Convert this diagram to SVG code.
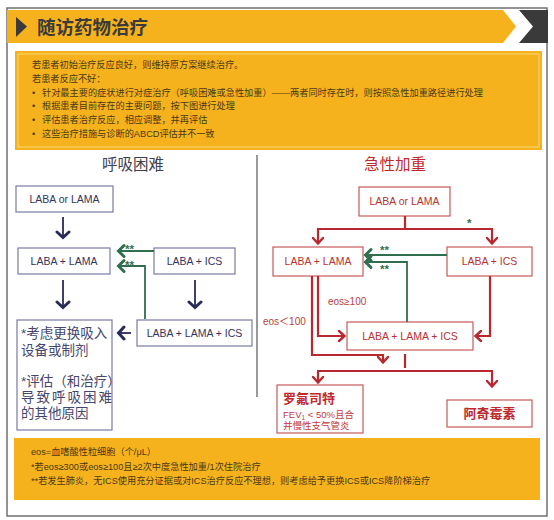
<svg xmlns="http://www.w3.org/2000/svg" width="554" height="520" viewBox="0 0 554 520">
<defs>
<style>
.zh{font-family:"Liberation Sans","Noto Sans CJK SC",sans-serif}
.info{font-size:9.2px;fill:#4a3a18}
.lbox{fill:#fff;stroke:#7a7aa2;stroke-width:1.2}
.rbox{fill:#fff;stroke:#c65a5a;stroke-width:1.2}
.lt{font-size:10.5px;fill:#34345c;text-anchor:middle}
.rt{font-size:10.5px;fill:#b83232;text-anchor:middle}
.navy{stroke:#2a2a58;stroke-width:1.8;fill:none}
.green{stroke:#2f6e4e;stroke-width:1.8;fill:none}
.red{stroke:#b8282e;stroke-width:2.2;fill:none}
.star{font-size:11.5px;fill:#2f6e4e;font-weight:bold}
</style>
<marker id="mn" viewBox="-10 -8 12 16" refX="0" refY="0" markerWidth="12" markerHeight="16" orient="auto" markerUnits="userSpaceOnUse">
<path d="M-6,-6 L-0.5,0 L-6,6" fill="none" stroke="#2a2a58" stroke-width="3" stroke-linecap="round"/>
</marker>
<marker id="mg" viewBox="-10 -8 12 16" refX="0" refY="0" markerWidth="12" markerHeight="16" orient="auto" markerUnits="userSpaceOnUse">
<path d="M-6,-5.5 L-0.5,0 L-6,5.5" fill="none" stroke="#2f6e4e" stroke-width="3" stroke-linecap="round"/>
</marker>
<marker id="mr" viewBox="-10 -8 12 16" refX="0" refY="0" markerWidth="12" markerHeight="16" orient="auto" markerUnits="userSpaceOnUse">
<path d="M-6,-5 L-0.5,0 L-6,5" fill="none" stroke="#b8282e" stroke-width="2.4" stroke-linecap="round"/>
</marker>
</defs>
<rect width="554" height="520" fill="#fff"/>
<rect x="7" y="8" width="540" height="508" fill="none" stroke="#707070" stroke-width="1.5"/>

<g id="header">
<polygon points="7,10 503,10 516,26.5 503,43 7,43" fill="#F6B21C"/>
<polygon points="519,10 548,10 548,43 519,43 533,26.5" fill="#3a3a3a"/>
<polygon points="16,17 27,26.5 16,37" fill="#3a3a3a"/>
<text x="37" y="34" class="zh" font-size="18.5" font-weight="bold" fill="#3a3a3a">随访药物治疗</text>
</g>

<g id="info">
<rect x="15" y="51" width="527" height="99" fill="#F6B21C"/>
<rect x="18" y="54" width="521" height="93" fill="none" stroke="#FAD87A" stroke-width="1"/>
<text class="zh info" x="32" y="68">若患者初始治疗反应良好，则维持原方案继续治疗。</text>
<text class="zh info" x="32" y="82">若患者反应不好：</text>
<text class="zh info" x="32" y="95.5">•</text>
<text class="zh info" x="42" y="95.5">针对最主要的症状进行对症治疗（呼吸困难或急性加重）——两者同时存在时，则按照急性加重路径进行处理</text>
<text class="zh info" x="32" y="109">•</text>
<text class="zh info" x="42" y="109">根据患者目前存在的主要问题，按下图进行处理</text>
<text class="zh info" x="32" y="123">•</text>
<text class="zh info" x="42" y="123">评估患者治疗反应，相应调整，并再评估</text>
<text class="zh info" x="32" y="136.5">•</text>
<text class="zh info" x="42" y="136.5">这些治疗措施与诊断的ABCD评估并不一致</text>
</g>

<line x1="257" y1="155" x2="257" y2="397" stroke="#999" stroke-width="2"/>

<text x="133" y="170" class="zh" font-size="15.5" fill="#3e3e4e" text-anchor="middle">呼吸困难</text>
<text x="395" y="170" class="zh" font-size="15.5" fill="#c0282d" text-anchor="middle">急性加重</text>

<g id="L1"><rect class="lbox" x="16" y="186" width="97" height="26"/><text class="zh lt" x="64.5" y="202.5">LABA or LAMA</text></g>
<g id="L2"><rect class="lbox" x="18" y="248" width="92" height="26"/><text class="zh lt" x="64" y="264.5">LABA + LAMA</text></g>
<g id="L3"><rect class="lbox" x="154" y="248" width="81" height="26"/><text class="zh lt" x="194.5" y="264.5">LABA + ICS</text></g>
<g id="L4"><rect class="lbox" x="137" y="320" width="115" height="26"/><text class="zh lt" x="194.5" y="336.5">LABA + LAMA + ICS</text></g>
<g id="L5"><rect class="lbox" x="17" y="320" width="95" height="110"/>
<g class="zh" font-size="13.5" fill="#46466c">
<text x="21" y="338">*考虑更换吸入</text>
<text x="21" y="355">设备或制剂</text>
<text x="21" y="386">*评估（和治疗）</text>
<text x="21" y="402" letter-spacing="2">导致呼吸困难</text>
<text x="21" y="418">的其他原因</text>
</g></g>

<g id="R1"><rect class="rbox" x="359" y="187" width="91" height="29"/><text class="zh rt" x="404.5" y="205">LABA or LAMA</text></g>
<g id="R2"><rect class="rbox" x="273" y="247" width="90" height="29"/><text class="zh rt" x="318" y="265">LABA + LAMA</text></g>
<g id="R3"><rect class="rbox" x="447" y="247" width="85" height="29"/><text class="zh rt" x="489.5" y="265">LABA + ICS</text></g>
<g id="R4"><rect class="rbox" x="347" y="322" width="126" height="28"/><text class="zh rt" x="410" y="339.5">LABA + LAMA + ICS</text></g>
<g id="R5"><rect class="rbox" x="277" y="385" width="86" height="48"/>
<text class="zh" x="283" y="403" font-size="13" font-weight="bold" fill="#c0282d">罗氟司特</text>
<text class="zh" x="283" y="418" font-size="9.5" fill="#c03a3a">FEV<tspan font-size="6.5" dy="2">1</tspan><tspan dy="-2"> &lt; 50%且合</tspan></text>
<text class="zh" x="283" y="429" font-size="9.5" fill="#c03a3a">并慢性支气管炎</text></g>
<g id="R6"><rect class="rbox" x="447" y="400" width="85" height="27"/><text class="zh" x="489.5" y="418" font-size="13" font-weight="bold" fill="#c0282d" text-anchor="middle">阿奇霉素</text></g>

<g id="connectors">
<path class="navy" d="M63,217 V238" marker-end="url(#mn)"/>
<path class="navy" d="M63,280 V308" marker-end="url(#mn)"/>
<path class="navy" d="M195,280 V308" marker-end="url(#mn)"/>
<path class="navy" d="M131,333 H118" marker-end="url(#mn)"/>
<path class="green" d="M154,251 H118" marker-end="url(#mg)"/>
<path class="green" d="M145,319 V266 H118" marker-end="url(#mg)"/>
<text class="zh star" x="125" y="253">**</text>
<text class="zh star" x="125" y="269">**</text>

<path class="red" d="M405,216 V229 M317,229 H493"/>
<path class="red" d="M318,229 V244" marker-end="url(#mr)"/>
<path class="red" d="M492,229 V244" marker-end="url(#mr)"/>
<text class="zh star" x="467" y="227">*</text>
<path class="green" d="M447,255 H365" marker-end="url(#mg)"/>
<path class="green" d="M407,322 V262 H365" marker-end="url(#mg)"/>
<text class="zh star" x="380" y="254">**</text>
<text class="zh star" x="380" y="273">**</text>
<path class="red" d="M312,276 V355 H383 V363" marker-end="url(#mr)"/>
<path class="red" d="M318,276 V336 H345" marker-end="url(#mr)"/>
<path class="red" d="M490,276 V336 H475" marker-end="url(#mr)"/>
<text class="zh" x="328" y="304.5" font-size="10" fill="#b84040">eos≥100</text>
<text class="zh" x="263" y="325" font-size="10" fill="#b84040">eos＜100</text>
<path class="red" d="M405,354 V368 M317,371 H493"/>
<path class="red" d="M318,371 V383" marker-end="url(#mr)"/>
<path class="red" d="M492,371 V387" marker-end="url(#mr)"/>
</g>

<g id="footer">
<rect x="14" y="438" width="526" height="62" fill="#F6B21C"/>
<text class="zh info" x="31" y="455">eos=血嗜酸性粒细胞（个/μL）</text>
<text class="zh info" x="31" y="469.5">*若eos≥300或eos≥100且≥2次中度急性加重/1次住院治疗</text>
<text class="zh info" x="31" y="484">**若发生肺炎，无ICS使用充分证据或对ICS治疗反应不理想，则考虑给予更换ICS或ICS降阶梯治疗</text>
</g>
</svg>
